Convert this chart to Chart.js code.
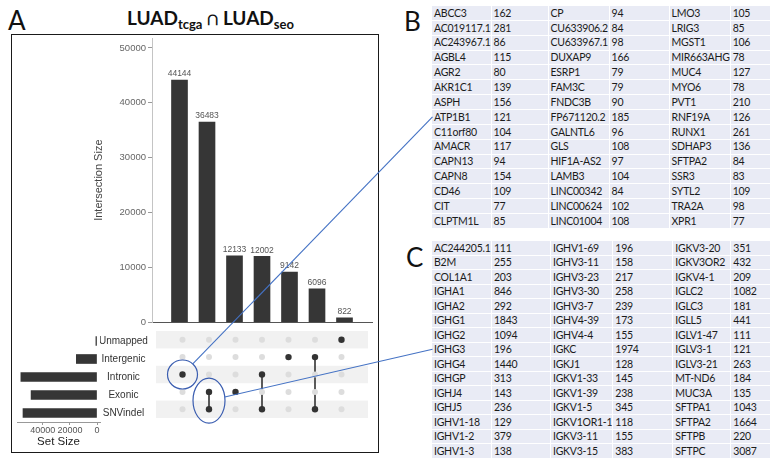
<!DOCTYPE html>
<html>
<head>
<meta charset="utf-8">
<title>LUAD tcga ∩ LUAD seo</title>
<script src="https://cdn.jsdelivr.net/npm/chart.js@4.4.1/dist/chart.umd.min.js"></script>
<style>
  body { margin: 0; background: #fff; }
  #wrap { position: relative; width: 782px; height: 461px; overflow: hidden; background: #fff; }
  .panel { position: absolute; font: 26px Lato, 'Open Sans', sans-serif; color: #111; line-height: 1; }
  #box { position: absolute; left: 11px; top: 34px; width: 368px; height: 419px; border: 1.5px solid #1a1a1a; box-sizing: border-box; }
  #title { position: absolute; left: 127px; top: 8px; font: bold 19px Lato, sans-serif; color: #111; white-space: nowrap; line-height: 1; }
  #title sub { font-size: 13px; vertical-align: -4px; line-height: 1; }
  canvas { position: absolute; }
  table { position: absolute; border-collapse: collapse; table-layout: fixed; font: 10.5px Lato, sans-serif; letter-spacing: -0.25px; color: #1b1b1b; }
  td { background: #e9ebf5; border: 1.5px solid #fff; padding: 0 0 0 2px; white-space: nowrap; overflow: hidden; line-height: 1; }
  svg { position: absolute; left: 0; top: 0; pointer-events: none; }
</style>
</head>
<body>
<div id="wrap">
  <div class="panel" style="left:8px;top:7px">A</div>
  <div class="panel" style="left:404px;top:8px">B</div>
  <div class="panel" style="left:406px;top:244px">C</div>
  <div id="title">LUAD<sub>tcga</sub> ∩ LUAD<sub>seo</sub></div>
  <div id="box"></div>
  <canvas id="barChart" width="292" height="300" style="left:86px;top:30px"></canvas>
  <canvas id="matrixChart" width="220" height="95" style="left:152px;top:327px"></canvas>
  <canvas id="setChart" width="142" height="125" style="left:10px;top:327px"></canvas>
  <table id="tableB" style="left:431px;top:5px"></table>
  <table id="tableC" style="left:431px;top:240px"></table>
  <svg id="notes" width="782" height="461"></svg>
</div>

<script>
// ---------- Data ----------
const setNames = ['Unmapped', 'Intergenic', 'Intronic', 'Exonic', 'SNVindel'];
const setSizes = [822, 15238, 56146, 48616, 54581];
const setTicks = [0, 20000, 40000];

const intersectionSizes = [44144, 36483, 12133, 12002, 9142, 6096, 822];
const intersectionSets = [
  ['Intronic'],
  ['Exonic', 'SNVindel'],
  ['Exonic'],
  ['Intronic', 'SNVindel'],
  ['Intergenic'],
  ['Intergenic', 'SNVindel'],
  ['Unmapped']
];
const sizeTicks = [0, 10000, 20000, 30000, 40000, 50000];

// table B: genes of the Intronic-only intersection
const intronicGenes = [
  'ABCC3', 'AC019117.1', 'AC243967.1', 'AGBL4', 'AGR2', 'AKR1C1', 'ASPH', 'ATP1B1', 'C11orf80', 'AMACR', 'CAPN13', 'CAPN8', 'CD46', 'CIT', 'CLPTM1L',
  'CP', 'CU633906.2', 'CU633967.1', 'DUXAP9', 'ESRP1', 'FAM3C', 'FNDC3B', 'FP671120.2', 'GALNTL6', 'GLS', 'HIF1A-AS2', 'LAMB3', 'LINC00342', 'LINC00624', 'LINC01004',
  'LMO3', 'LRIG3', 'MGST1', 'MIR663AHG', 'MUC4', 'MYO6', 'PVT1', 'RNF19A', 'RUNX1', 'SDHAP3', 'SFTPA2', 'SSR3', 'SYTL2', 'TRA2A', 'XPR1'
];
const intronicCounts = [
  162, 281, 86, 115, 80, 139, 156, 121, 104, 117, 94, 154, 109, 77, 85,
  94, 84, 98, 166, 79, 79, 90, 185, 96, 108, 97, 104, 84, 102, 108,
  105, 85, 106, 78, 127, 78, 210, 126, 261, 136, 84, 83, 109, 98, 77
];

// table C: genes of the Exonic + SNVindel intersection
const exonicSnvGenes = [
  'AC244205.1', 'B2M', 'COL1A1', 'IGHA1', 'IGHA2', 'IGHG1', 'IGHG2', 'IGHG3', 'IGHG4', 'IGHGP', 'IGHJ4', 'IGHJ5', 'IGHV1-18', 'IGHV1-2', 'IGHV1-3',
  'IGHV1-69', 'IGHV3-11', 'IGHV3-23', 'IGHV3-30', 'IGHV3-7', 'IGHV4-39', 'IGHV4-4', 'IGKC', 'IGKJ1', 'IGKV1-33', 'IGKV1-39', 'IGKV1-5', 'IGKV1OR1-1', 'IGKV3-11', 'IGKV3-15',
  'IGKV3-20', 'IGKV3OR2', 'IGKV4-1', 'IGLC2', 'IGLC3', 'IGLL5', 'IGLV1-47', 'IGLV3-1', 'IGLV3-21', 'MT-ND6', 'MUC3A', 'SFTPA1', 'SFTPA2', 'SFTPB', 'SFTPC'
];
const exonicSnvCounts = [
  111, 255, 203, 846, 292, 1843, 1094, 196, 1440, 313, 143, 236, 129, 379, 138,
  196, 158, 217, 258, 239, 173, 155, 1974, 128, 145, 238, 345, 118, 155, 383,
  351, 432, 209, 1082, 181, 441, 111, 121, 263, 184, 135, 1043, 1664, 220, 3087
];

// which matrix column points at which table row
const callouts = [
  { column: 0, cell: 'ATP1B1', rx: 15, ry: 14.5 },
  { column: 1, cell: 'IGHG3', rx: 16, ry: 22.5 }
];

const DARK = '#363636';

// ---------- Tables ----------
function buildTable (id, genes, counts, widths, rowH) {
  const t = document.getElementById(id);
  const rows = genes.length / 3;
  let html = '<colgroup>' + widths.map(w => `<col style="width:${w}px">`).join('') + '</colgroup>';
  for (let r = 0; r < rows; r++) {
    html += `<tr style="height:${rowH}px">`;
    for (let c = 0; c < 3; c++) {
      const i = c * rows + r;
      html += `<td>${genes[i]}</td><td>${counts[i]}</td>`;
    }
    html += '</tr>';
  }
  t.innerHTML = html;
}
buildTable('tableB', intronicGenes, intronicCounts, [59, 57, 61, 60, 59, 40], 14.87);
buildTable('tableC', exonicSnvGenes, exonicSnvCounts, [60, 59, 60, 60, 58, 40], 14.5);

// ---------- Intersection size bars ----------
const barLabels = {
  id: 'barLabels',
  afterDatasetsDraw (chart) {
    const ctx = chart.ctx;
    ctx.save();
    ctx.font = '8.5px "Liberation Sans", Arial, sans-serif';
    ctx.fillStyle = '#555';
    ctx.textAlign = 'center';
    ctx.textBaseline = 'bottom';
    chart.getDatasetMeta(0).data.forEach((bar, i) => {
      ctx.fillText(String(intersectionSizes[i]), bar.x, bar.y - 2);
    });
    ctx.restore();
  }
};

Chart.defaults.font.family = '"Liberation Sans", Arial, sans-serif';

const barChart = new Chart(document.getElementById('barChart'), {
  type: 'bar',
  data: { datasets: [{
    data: intersectionSizes.map((v, i) => ({ x: i, y: v })),
    backgroundColor: DARK, barThickness: 16
  }]},
  options: {
    responsive: false, animation: false,
    layout: { padding: { top: 8, right: 6, bottom: 7, left: 0 } },
    plugins: { legend: { display: false }, tooltip: { enabled: false } },
    scales: {
      x: {
        type: 'linear', min: -1, max: 7, offset: false,
        ticks: { display: false }, grid: { display: false },
        border: { color: '#555' },
        afterFit: s => { s.height = 0; }
      },
      y: {
        min: 0, max: 51800,
        afterBuildTicks: s => { s.ticks = sizeTicks.map(v => ({ value: v })); },
        afterFit: s => { s.width = 66; },
        border: { color: '#c4c4c4' },
        grid: { drawOnChartArea: false, tickLength: 4, color: '#999' },
        ticks: { padding: 2, color: '#666', font: { size: 9.5 }, callback: v => String(v) },
        title: { display: true, text: 'Intersection Size', color: '#444', font: { size: 11 }, padding: { top: 6, bottom: 0 } }
      }
    }
  },
  plugins: [barLabels]
});

// ---------- Matrix of dots ----------
const stripes = {
  id: 'stripes',
  beforeDatasetsDraw (chart) {
    const { ctx, chartArea: a, scales: { y } } = chart;
    ctx.save();
    ctx.fillStyle = '#f1f1f1';
    setNames.forEach((n, i) => {
      if (i % 2) return;
      const y1 = y.getPixelForValue(i - 0.5), y2 = y.getPixelForValue(i + 0.5);
      ctx.fillRect(a.left, Math.min(y1, y2), a.right - a.left, Math.abs(y2 - y1));
    });
    ctx.restore();
  }
};

const emptyDots = [];
intersectionSets.forEach((sets, col) => setNames.forEach((name, row) => {
  if (!sets.includes(name)) emptyDots.push({ x: col, y: row });
}));

const matrixDatasets = [{
  data: emptyDots, pointRadius: 3, backgroundColor: '#dddddd', borderWidth: 0
}];
intersectionSets.forEach((sets, col) => matrixDatasets.push({
  data: sets.map(n => ({ x: col, y: setNames.indexOf(n) })),
  showLine: true, borderColor: '#333', borderWidth: 1.6,
  pointRadius: 3.2, pointBackgroundColor: '#333', pointBorderWidth: 0
}));

const matrixChart = new Chart(document.getElementById('matrixChart'), {
  type: 'scatter',
  data: { datasets: matrixDatasets },
  options: {
    responsive: false, animation: false,
    layout: { padding: 0 },
    plugins: { legend: { display: false }, tooltip: { enabled: false } },
    scales: {
      x: { type: 'linear', min: -1, max: 7, display: false },
      y: { type: 'linear', min: -0.5, max: 4.5, reverse: true, display: false }
    }
  },
  plugins: [stripes]
});

// ---------- Set size bars ----------
const setChart = new Chart(document.getElementById('setChart'), {
  type: 'bar',
  data: { labels: setNames, datasets: [{ data: setSizes, backgroundColor: DARK, barThickness: 9 }] },
  options: {
    indexAxis: 'y', responsive: false, animation: false,
    layout: { padding: { left: 7, top: 0, right: 0, bottom: 0 } },
    plugins: { legend: { display: false }, tooltip: { enabled: false } },
    scales: {
      x: {
        min: -2200, max: 59000, reverse: true,
        afterBuildTicks: s => { s.ticks = setTicks.map(v => ({ value: v })); },
        afterFit: s => { s.height = 30; },
        border: { color: '#999' },
        grid: { drawOnChartArea: false, tickLength: 3, color: '#999' },
        ticks: { padding: 0, maxRotation: 0, autoSkip: false, color: '#555', font: { size: 9 }, callback: v => String(v) },
        title: { display: true, text: 'Set Size', color: '#222', font: { size: 11.5 }, padding: { top: 0, bottom: 3 } }
      },
      y: {
        position: 'right',
        afterFit: s => { s.width = 52; },
        grid: { display: false, drawTicks: false },
        border: { display: false },
        ticks: { crossAlign: 'center', padding: -1, color: '#333', font: { size: 10 } }
      }
    }
  }
});

// ---------- Callouts (ellipses + leader lines) ----------
function drawNotes () {
  const svg = document.getElementById('notes');
  const wrap = document.getElementById('wrap').getBoundingClientRect();
  const cv = matrixChart.canvas, sx = matrixChart.scales.x, sy = matrixChart.scales.y;
  const cells = [...document.querySelectorAll('td')];
  let out = '';
  callouts.forEach(c => {
    const rows = intersectionSets[c.column].map(n => setNames.indexOf(n));
    const cx = cv.offsetLeft + sx.getPixelForValue(c.column);
    const cy = cv.offsetTop + sy.getPixelForValue((Math.min(...rows) + Math.max(...rows)) / 2);
    const td = cells.find(t => t.textContent === c.cell).getBoundingClientRect();
    const tx = td.left - wrap.left + 1, ty = td.top + td.height / 2 - wrap.top;
    const dx = tx - cx, dy = ty - cy;
    const k = 1 / Math.sqrt((dx / c.rx) ** 2 + (dy / c.ry) ** 2);
    out += `<ellipse cx="${cx}" cy="${cy}" rx="${c.rx}" ry="${c.ry}" fill="none" stroke="#3a5db0" stroke-width="1.2"/>`;
    out += `<line x1="${cx + dx * k}" y1="${cy + dy * k}" x2="${tx}" y2="${ty}" stroke="#4472c4" stroke-width="1.1"/>`;
  });
  svg.innerHTML = out;
}
drawNotes();
</script>
</body>
</html>
